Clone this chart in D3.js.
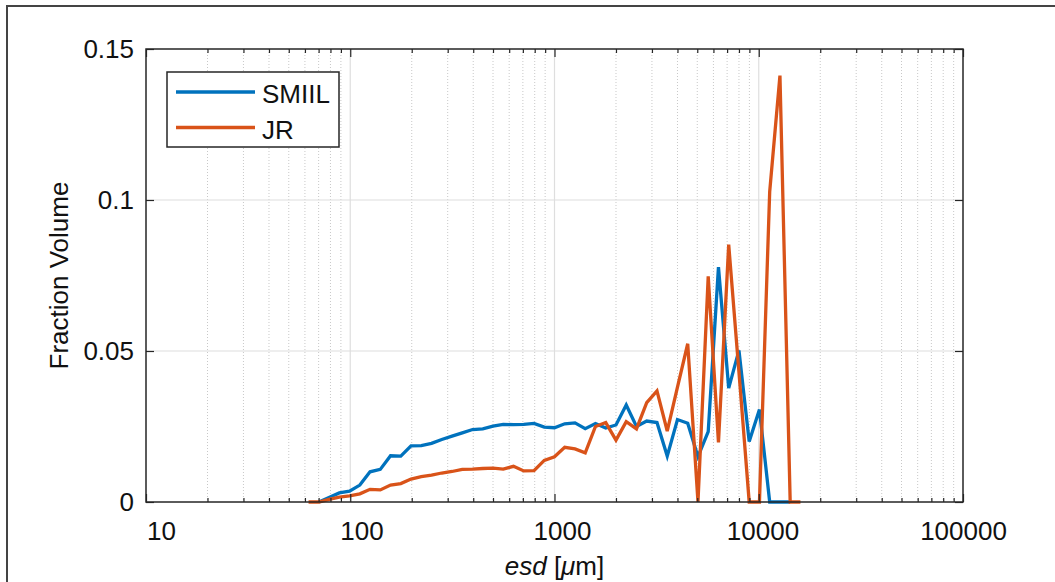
<!DOCTYPE html>
<html>
<head>
<meta charset="utf-8">
<script src="https://cdn.jsdelivr.net/npm/d3@7"></script>
<style>
  html, body { margin: 0; padding: 0; background: #fff; }
  #chart { width: 1055px; height: 582px; }
  text { font-family: "Liberation Sans", Arial, sans-serif; }
</style>
</head>
<body>
<div id="chart"></div>
<script>
// esd bin centres [um], 1/6-octave steps
const esdBins = [62.5, 70.2, 78.7, 88.4, 99.2, 111.4, 125, 140.3, 157.5, 176.8,
  198.4, 222.7, 250, 280.6, 315, 353.6, 396.9, 445.4, 500, 561.2,
  630, 707.1, 793.7, 890.9, 1000, 1122, 1260, 1414, 1587, 1782,
  2000, 2245, 2520, 2828, 3175, 3564, 4000, 4490, 5040, 5657,
  6350, 7127, 8000, 8980, 10079, 11314, 12699, 14254, 16000];

// fraction volume per bin (null = no point)
const smiilVals = [null, 0, 0.0015, 0.003, 0.0036, 0.0056, 0.0100, 0.0108, 0.0153, 0.0152,
  0.0186, 0.0187, 0.0194, 0.0207, 0.0218, 0.0229, 0.0240, 0.0242, 0.0251, 0.0257,
  0.0256, 0.0257, 0.0260, 0.0248, 0.0246, 0.0259, 0.0262, 0.0243, 0.0260, 0.0245,
  0.0255, 0.0321, 0.0250, 0.0268, 0.0263, 0.0152, 0.0273, 0.0261, 0.0150, 0.0233,
  0.0778, 0.0377, 0.0502, 0.0200, 0.0306, 0, 0, 0, null];

const jrVals = [0, 0, 0.0009, 0.0016, 0.0020, 0.0027, 0.0042, 0.0040, 0.0056, 0.0061,
  0.0076, 0.0084, 0.0089, 0.0096, 0.0101, 0.0108, 0.0109, 0.0111, 0.0112, 0.0109,
  0.0118, 0.0103, 0.0104, 0.0138, 0.0150, 0.0181, 0.0176, 0.0163, 0.0250, 0.0263,
  0.0205, 0.0266, 0.0242, 0.0329, 0.0368, 0.0235, 0.0380, 0.0524, 0, 0.0747,
  0.0197, 0.0852, 0.0430, 0, 0, 0.1028, 0.1412, 0, 0];

const xTicks = [10, 100, 1000, 10000, 100000];
const yTicks = [0, 0.05, 0.1, 0.15];
const seriesNames = ['SMIIL', 'JR'];
const seriesColors = ['#0072BD', '#D95319'];

(function () {
  const W = 1055, H = 582;
  const margin = { top: 49, right: 92, bottom: 80, left: 146 };
  const w = W - margin.left - margin.right;
  const h = H - margin.top - margin.bottom;
  const axisColor = '#262626';

  const svg = d3.select('#chart').append('svg')
    .attr('width', W)
    .attr('height', H);

  // figure frame
  svg.append('rect')
    .attr('x', 7).attr('y', 6)
    .attr('width', W + 20).attr('height', H + 20)
    .attr('fill', 'none')
    .attr('stroke', '#444')
    .attr('stroke-width', 2);

  const g = svg.append('g').attr('transform', `translate(${margin.left},${margin.top})`);

  const x = d3.scaleLog().domain([10, 100000]).range([0, w]);
  const y = d3.scaleLinear().domain([0, 0.15]).range([h, 0]);
  // tick labels sit slightly right of the ticks in the original
  const xLabel = d3.scaleLog().domain([10, 100000]).range([15, w]);

  const minorTicks = x.ticks().filter(d => xTicks.indexOf(d) < 0);

  // minor grid (dotted)
  g.selectAll('.minor-grid')
    .data(minorTicks)
    .join('line')
    .attr('x1', d => x(d)).attr('x2', d => x(d))
    .attr('y1', 0).attr('y2', h)
    .attr('stroke', '#c8c8c8')
    .attr('stroke-width', 1)
    .attr('stroke-dasharray', '1,2');

  // major grid
  g.selectAll('.xgrid')
    .data(xTicks.slice(1, -1))
    .join('line')
    .attr('x1', d => x(d)).attr('x2', d => x(d))
    .attr('y1', 0).attr('y2', h)
    .attr('stroke', '#dedede')
    .attr('stroke-width', 1.2);

  g.selectAll('.ygrid')
    .data(yTicks.slice(1, -1))
    .join('line')
    .attr('x1', 0).attr('x2', w)
    .attr('y1', d => y(d)).attr('y2', d => y(d))
    .attr('stroke', '#dedede')
    .attr('stroke-width', 1.2);

  // lines
  const rows = esdBins.map((e, i) => ({ esd: e, v: [smiilVals[i], jrVals[i]] }));
  seriesNames.forEach((name, k) => {
    const line = d3.line()
      .defined(d => d.v[k] !== null)
      .x(d => x(d.esd))
      .y(d => y(d.v[k]));
    g.append('path')
      .datum(rows)
      .attr('fill', 'none')
      .attr('stroke', seriesColors[k])
      .attr('stroke-width', 3.3)
      .attr('stroke-linejoin', 'miter')
      .attr('d', line);
  });

  // axes: ticks pointing inward
  g.append('g')
    .attr('transform', `translate(0,${h})`)
    .call(d3.axisBottom(x).tickValues(xTicks).tickSize(-8).tickFormat(''))
    .call(a => a.select('.domain').remove())
    .call(a => a.selectAll('line').attr('stroke', axisColor).attr('stroke-width', 1.2));
  g.append('g')
    .attr('transform', `translate(0,${h})`)
    .call(d3.axisBottom(x).tickValues(minorTicks).tickSize(-4).tickFormat(''))
    .call(a => a.select('.domain').remove())
    .call(a => a.selectAll('line').attr('stroke', axisColor).attr('stroke-width', 1.2));
  g.append('g')
    .call(d3.axisTop(x).tickValues(xTicks).tickSize(-8).tickFormat(''))
    .call(a => a.select('.domain').remove())
    .call(a => a.selectAll('line').attr('stroke', axisColor).attr('stroke-width', 1.2));
  g.append('g')
    .call(d3.axisTop(x).tickValues(minorTicks).tickSize(-4).tickFormat(''))
    .call(a => a.select('.domain').remove())
    .call(a => a.selectAll('line').attr('stroke', axisColor).attr('stroke-width', 1.2));

  g.append('g')
    .attr('transform', `translate(0,${h})`)
    .call(d3.axisBottom(xLabel).tickValues(xTicks).tickSize(0).tickPadding(20).tickFormat(d3.format('d')))
    .call(a => a.select('.domain').remove())
    .selectAll('text')
    .attr('fill', '#111')
    .style('font-size', '26px')
    .style('font-family', '"Liberation Sans", Arial, sans-serif');

  g.append('g')
    .call(d3.axisLeft(y).tickValues(yTicks).tickSize(-8).tickPadding(12).tickFormat(d => d === 0 ? '0' : String(d)))
    .call(a => a.select('.domain').remove())
    .call(a => a.selectAll('line').attr('stroke', axisColor).attr('stroke-width', 1.2))
    .selectAll('text')
    .attr('fill', '#111')
    .style('font-size', '26px')
    .style('font-family', '"Liberation Sans", Arial, sans-serif');

  g.append('g')
    .attr('transform', `translate(${w},0)`)
    .call(d3.axisRight(y).tickValues(yTicks).tickSize(-8).tickFormat(''))
    .call(a => a.select('.domain').remove())
    .call(a => a.selectAll('line').attr('stroke', axisColor).attr('stroke-width', 1.2));

  // axes box
  g.append('rect')
    .attr('width', w).attr('height', h)
    .attr('fill', 'none')
    .attr('stroke', axisColor)
    .attr('stroke-width', 1.5);

  // axis titles
  const xt = svg.append('text')
    .attr('x', margin.left + w / 2)
    .attr('y', 575)
    .attr('text-anchor', 'middle')
    .attr('fill', '#111')
    .attr('font-size', '26px');
  xt.append('tspan').attr('font-style', 'italic').text('esd');
  xt.append('tspan').text(' [');
  xt.append('tspan').attr('font-style', 'italic').text('μ');
  xt.append('tspan').text('m]');

  svg.append('text')
    .attr('transform', `translate(68,${margin.top + h / 2}) rotate(-90)`)
    .attr('text-anchor', 'middle')
    .attr('fill', '#111')
    .attr('font-size', '26px')
    .text('Fraction Volume');

  // legend
  const lg = svg.append('g').attr('transform', 'translate(167,72)');
  lg.append('rect')
    .attr('width', 172).attr('height', 75)
    .attr('fill', '#fff')
    .attr('stroke', axisColor)
    .attr('stroke-width', 1.5);
  seriesNames.forEach((name, k) => {
    const yy = 20 + k * 35.5;
    lg.append('line')
      .attr('x1', 9).attr('x2', 88)
      .attr('y1', yy).attr('y2', yy)
      .attr('stroke', seriesColors[k])
      .attr('stroke-width', 3.3);
    lg.append('text')
      .attr('x', 95).attr('y', yy + 11)
      .attr('fill', '#111')
      .attr('font-size', '26px')
      .text(name);
  });
})();
</script>
</body>
</html>
